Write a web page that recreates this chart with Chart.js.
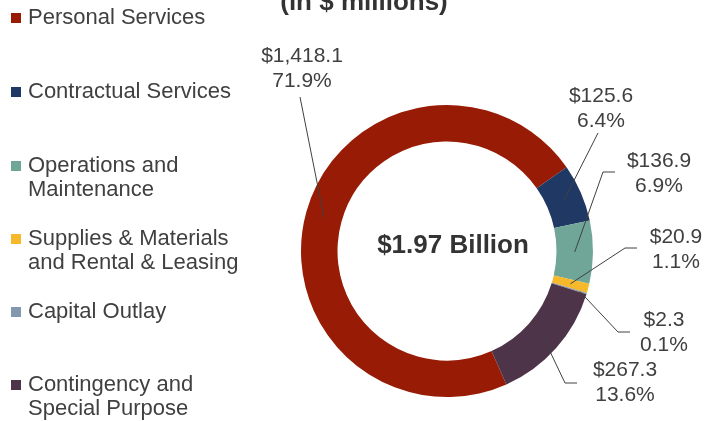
<!DOCTYPE html>
<html>
  <head>
    <title>Expenditures Donut</title>
    <script src="https://cdn.jsdelivr.net/npm/chart.js"></script>
    <style>
      body { margin: 0; background: #fff; }
    </style>
  </head>
  <body>
    <canvas id="budgetChart" width="707" height="421"></canvas>

    <script>
      // data ($ millions)
      const categories = [
        'Personal Services',
        'Contractual Services',
        'Operations and Maintenance',
        'Supplies & Materials and Rental & Leasing',
        'Capital Outlay',
        'Contingency and Special Purpose',
      ];
      const legendLines = [
        ['Personal Services'],
        ['Contractual Services'],
        ['Operations and', 'Maintenance'],
        ['Supplies & Materials', 'and Rental & Leasing'],
        ['Capital Outlay'],
        ['Contingency and', 'Special Purpose'],
      ];
      const amounts = [1418.1, 125.6, 136.9, 20.9, 2.3, 267.3];
      const percents = [71.9, 6.4, 6.9, 1.1, 0.1, 13.6];
      const totalLabel = '$1.97 Billion';
      const titleText = '(in $ millions)';

      const colors = ['#981b06', '#1f3864', '#70a697', '#f6b92b', '#8497b0', '#4e3448'];

      // label text centres and leader line start points
      const labelPos = [
        { x: 302, y: 56, line: [[300, 97]] },
        { x: 601, y: 96, line: [[598, 133]] },
        { x: 659, y: 161, line: [[615, 172], [603, 172]] },
        { x: 676, y: 237, line: [[637, 248], [625, 248]] },
        { x: 664, y: 320, line: [[630, 332], [618, 332]] },
        { x: 625, y: 370, line: [[577, 383], [565, 383]] },
      ];
      const legendY = [18, 92, 166, 239, 312, 385];

      function money(v) {
        return '$' + v.toLocaleString('en-US', { minimumFractionDigits: 1, maximumFractionDigits: 1 });
      }

      const decor = {
        id: 'decor',
        afterDraw(chart) {
          const ctx = chart.ctx;
          const meta = chart.getDatasetMeta(0);
          ctx.save();

          // title (top line is cut off in the original)
          ctx.fillStyle = '#333333';
          ctx.font = 'bold 26px "Liberation Sans", Arial, sans-serif';
          ctx.textAlign = 'center';
          ctx.textBaseline = 'alphabetic';
          ctx.fillText(titleText, 364, 10);

          // centre text
          ctx.textBaseline = 'middle';
          ctx.fillText(totalLabel, 453, 246);

          // leader lines
          ctx.strokeStyle = '#404040';
          ctx.lineWidth = 1;
          meta.data.forEach((arc, i) => {
            const p = arc.getProps(['x', 'y', 'startAngle', 'endAngle', 'innerRadius', 'outerRadius'], true);
            const mid = (p.startAngle + p.endAngle) / 2;
            const r = i === 4 ? p.outerRadius - 7 : (p.innerRadius + p.outerRadius) / 2;
            const ax = p.x + Math.cos(mid) * r;
            const ay = p.y + Math.sin(mid) * r;
            const pts = labelPos[i].line;
            ctx.beginPath();
            ctx.moveTo(pts[0][0], pts[0][1]);
            for (let k = 1; k < pts.length; k++) ctx.lineTo(pts[k][0], pts[k][1]);
            ctx.lineTo(ax, ay);
            ctx.stroke();
          });

          // data labels
          ctx.fillStyle = '#404040';
          ctx.font = '21px "Liberation Sans", Arial, sans-serif';
          ctx.textAlign = 'center';
          ctx.textBaseline = 'middle';
          for (let i = 0; i < amounts.length; i++) {
            ctx.fillText(money(amounts[i]), labelPos[i].x, labelPos[i].y);
            ctx.fillText(percents[i].toFixed(1) + '%', labelPos[i].x, labelPos[i].y + 25);
          }

          // legend
          ctx.font = '22px "Liberation Sans", Arial, sans-serif';
          ctx.textAlign = 'left';
          for (let i = 0; i < legendLines.length; i++) {
            ctx.fillStyle = colors[i];
            ctx.fillRect(11, legendY[i] - 5, 10, 10);
            ctx.fillStyle = '#404040';
            legendLines[i].forEach((t, k) => {
              ctx.fillText(t, 28, legendY[i] + k * 24);
            });
          }
          ctx.restore();
        },
      };

      const ctx = document.getElementById('budgetChart').getContext('2d');
      const chart = new Chart(ctx, {
        type: 'doughnut',
        data: {
          labels: categories,
          datasets: [
            {
              data: amounts,
              backgroundColor: colors,
              borderWidth: 0,
            },
          ],
        },
        options: {
          responsive: false,
          animation: false,
          cutout: '75%',
          rotation: 156,
          layout: {
            padding: { left: 301, right: 114, top: 105, bottom: 24 },
          },
          plugins: {
            legend: { display: false },
            tooltip: { enabled: false },
          },
        },
        plugins: [decor],
      });
    </script>
  </body>
</html>
